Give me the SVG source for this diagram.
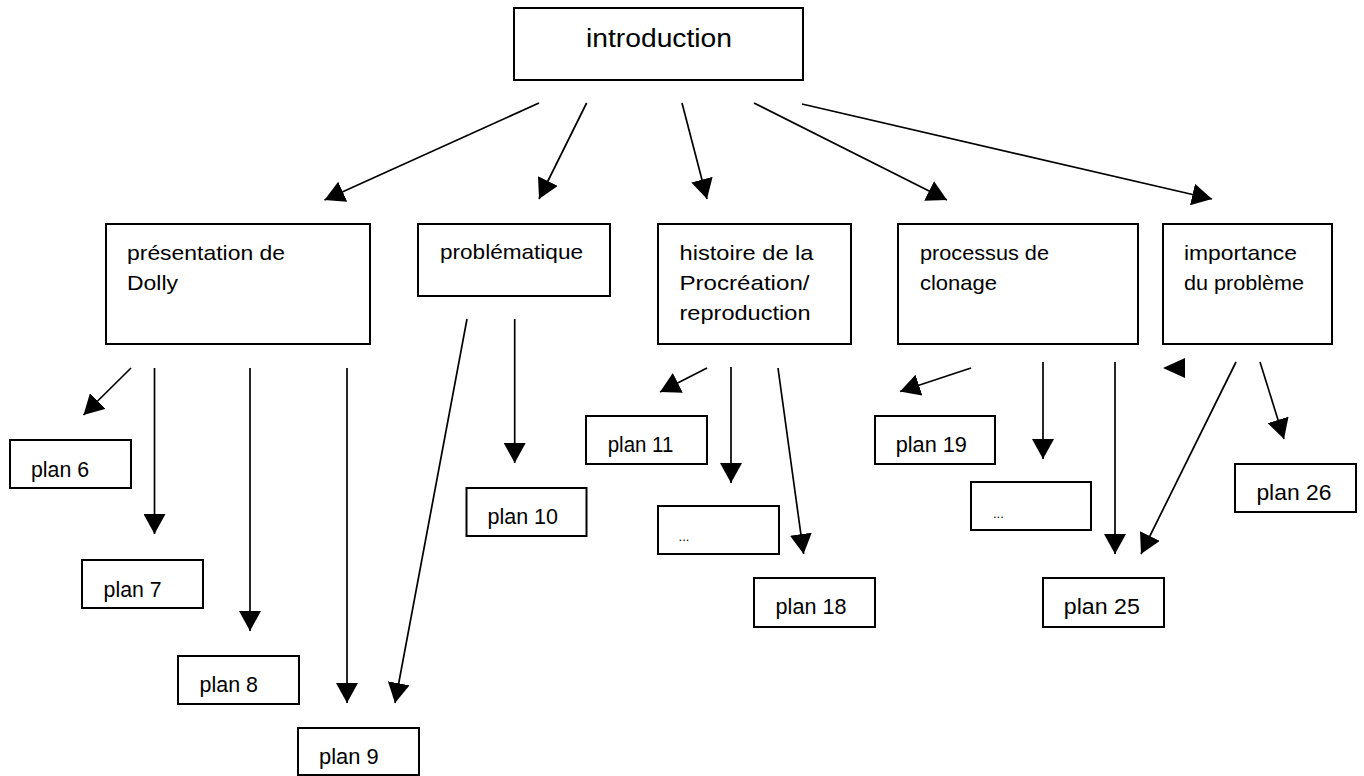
<svg xmlns="http://www.w3.org/2000/svg" width="1364" height="776" viewBox="0 0 1364 776">
<defs>
<style>
.box{fill:#fff;stroke:#000;stroke-width:2}
.lbl{font-family:"Liberation Sans",Arial,sans-serif;font-size:21px;fill:#000}
.intro{font-size:25px}
.pl{font-size:22px}
.dots{font-size:13px}
.con line{stroke:#000;stroke-width:1.7;fill:none;marker-end:url(#ah)}
</style>
<marker id="ah" markerUnits="userSpaceOnUse" markerWidth="21" markerHeight="22" refX="20" refY="11" orient="auto" viewBox="0 0 21 22">
<path d="M0,0 L20,11 L0,22 z" fill="#000"/>
</marker>
</defs>
<rect width="1364" height="776" fill="#fff"/>

<g id="introduction"><rect class="box" x="514" y="8" width="289" height="72"/><text class="lbl intro" x="586" y="47" textLength="146" lengthAdjust="spacingAndGlyphs">introduction</text></g>

<g id="presentation"><rect class="box" x="106" y="224" width="264" height="120"/><text class="lbl" x="127" y="260" textLength="158" lengthAdjust="spacingAndGlyphs">présentation de</text><text class="lbl" x="127" y="290" textLength="51" lengthAdjust="spacingAndGlyphs">Dolly</text></g>

<g id="problematique"><rect class="box" x="418" y="224" width="192" height="72"/><text class="lbl" x="440" y="259" textLength="143" lengthAdjust="spacingAndGlyphs">problématique</text></g>

<g id="histoire"><rect class="box" x="658" y="224" width="193" height="120"/><text class="lbl" x="679.5" y="260" textLength="134" lengthAdjust="spacingAndGlyphs">histoire de la</text><text class="lbl" x="679.5" y="290" textLength="130" lengthAdjust="spacingAndGlyphs">Procréation/</text><text class="lbl" x="679.5" y="320" textLength="131" lengthAdjust="spacingAndGlyphs">reproduction</text></g>

<g id="processus"><rect class="box" x="898" y="224" width="240" height="120"/><text class="lbl" x="920" y="260" textLength="129" lengthAdjust="spacingAndGlyphs">processus de</text><text class="lbl" x="920" y="290" textLength="77" lengthAdjust="spacingAndGlyphs">clonage</text></g>

<g id="importance"><rect class="box" x="1163" y="224" width="169" height="120"/><text class="lbl" x="1184" y="260" textLength="113" lengthAdjust="spacingAndGlyphs">importance</text><text class="lbl" x="1184" y="290" textLength="120" lengthAdjust="spacingAndGlyphs">du problème</text></g>

<g id="plan6"><rect class="box" x="10" y="440" width="121" height="48"/><text class="lbl pl" x="31" y="477" textLength="58" lengthAdjust="spacingAndGlyphs">plan 6</text></g>
<g id="plan7"><rect class="box" x="82" y="560" width="121" height="48"/><text class="lbl pl" x="103.6" y="597" textLength="58" lengthAdjust="spacingAndGlyphs">plan 7</text></g>
<g id="plan8"><rect class="box" x="178" y="656" width="121" height="48"/><text class="lbl pl" x="199.6" y="692" textLength="58.4" lengthAdjust="spacingAndGlyphs">plan 8</text></g>
<g id="plan9"><rect class="box" x="298" y="728" width="121" height="47"/><text class="lbl pl" x="319" y="764" textLength="59.6" lengthAdjust="spacingAndGlyphs">plan 9</text></g>
<g id="plan10"><rect class="box" x="466.5" y="488" width="120" height="48"/><text class="lbl pl" x="487.5" y="523.5" textLength="70.5" lengthAdjust="spacingAndGlyphs">plan 10</text></g>
<g id="plan11"><rect class="box" x="586" y="416" width="121" height="48"/><text class="lbl pl" x="607.7" y="451.5" textLength="65.7" lengthAdjust="spacingAndGlyphs">plan 11</text></g>
<g id="etc1"><rect class="box" x="658" y="506" width="121" height="48"/><text class="lbl dots" x="678.6" y="541">...</text></g>
<g id="plan18"><rect class="box" x="754" y="578" width="121" height="49"/><text class="lbl pl" x="775.6" y="614" textLength="70.8" lengthAdjust="spacingAndGlyphs">plan 18</text></g>
<g id="plan19"><rect class="box" x="875" y="416" width="120" height="48"/><text class="lbl pl" x="895.7" y="451.7" textLength="71.2" lengthAdjust="spacingAndGlyphs">plan 19</text></g>
<g id="etc2"><rect class="box" x="971" y="482" width="120" height="48"/><text class="lbl dots" x="993" y="517.5">...</text></g>
<g id="plan25"><rect class="box" x="1043" y="578" width="121" height="49"/><text class="lbl pl" x="1063.8" y="614" textLength="76" lengthAdjust="spacingAndGlyphs">plan 25</text></g>
<g id="plan26"><rect class="box" x="1235" y="464" width="121" height="48"/><text class="lbl pl" x="1256.4" y="499.5" textLength="75" lengthAdjust="spacingAndGlyphs">plan 26</text></g>

<g id="connectors" class="con">
<line x1="539" y1="103" x2="324.5" y2="200"/>
<line x1="586.6" y1="103" x2="539" y2="199"/>
<line x1="682" y1="103" x2="707" y2="199"/>
<line x1="754" y1="103" x2="947" y2="200"/>
<line x1="802" y1="104" x2="1212" y2="199"/>
<line x1="131" y1="368" x2="83.5" y2="415"/>
<line x1="154.5" y1="368" x2="154.5" y2="534"/>
<line x1="250" y1="368" x2="250" y2="631"/>
<line x1="347" y1="368" x2="347" y2="703"/>
<line x1="467" y1="319" x2="395" y2="703"/>
<line x1="514.7" y1="319" x2="514.7" y2="463"/>
<line x1="707" y1="368" x2="660" y2="392"/>
<line x1="731" y1="367" x2="731" y2="483"/>
<line x1="778" y1="368" x2="803.6" y2="554"/>
<line x1="971" y1="368" x2="900" y2="391.5"/>
<line x1="1043" y1="362" x2="1043" y2="459"/>
<line x1="1115" y1="362" x2="1115" y2="554"/>
<line x1="1236" y1="362" x2="1141" y2="554"/>
<line x1="1260" y1="362" x2="1284" y2="439"/>
<polygon points="1163,368 1185,358 1185,378" fill="#000"/>
</g>
</svg>
